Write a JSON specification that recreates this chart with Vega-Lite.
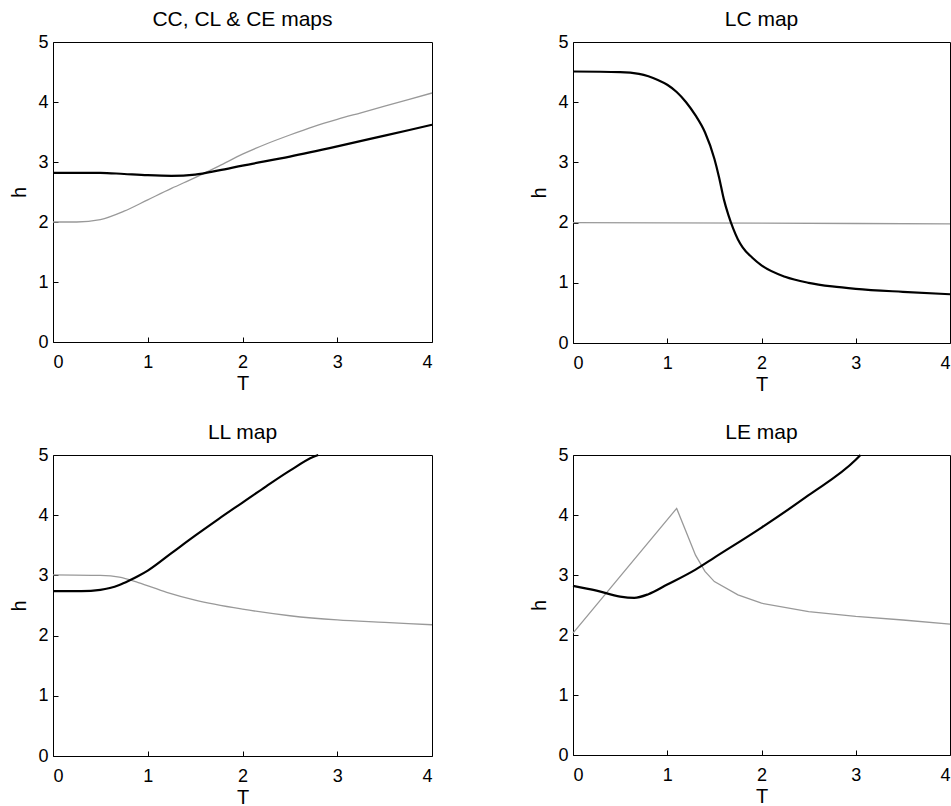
{
  "$schema": "https://vega.github.io/schema/vega-lite/v6.json",
  "padding": {"left": 9, "top": 8, "right": 0, "bottom": 0},
  "spacing": {"row": 26, "column": 92},
  "columns": 2,
  "datasets": {
    "p1": [
      {"T": 0, "h": 2.0, "s": "g"}, {"T": 0.25, "h": 2.0, "s": "g"}, {"T": 0.5, "h": 2.04, "s": "g"}, {"T": 0.75, "h": 2.18, "s": "g"}, {"T": 1.0, "h": 2.37, "s": "g"}, {"T": 1.25, "h": 2.56, "s": "g"}, {"T": 1.5, "h": 2.74, "s": "g"}, {"T": 1.75, "h": 2.93, "s": "g"}, {"T": 2.0, "h": 3.13, "s": "g"}, {"T": 2.25, "h": 3.30, "s": "g"}, {"T": 2.5, "h": 3.45, "s": "g"}, {"T": 2.75, "h": 3.59, "s": "g"}, {"T": 3.0, "h": 3.71, "s": "g"}, {"T": 3.25, "h": 3.82, "s": "g"}, {"T": 3.5, "h": 3.93, "s": "g"}, {"T": 3.75, "h": 4.04, "s": "g"}, {"T": 4.0, "h": 4.15, "s": "g"},
      {"T": 0, "h": 2.82, "s": "b"}, {"T": 0.5, "h": 2.82, "s": "b"}, {"T": 0.75, "h": 2.80, "s": "b"}, {"T": 1.0, "h": 2.78, "s": "b"}, {"T": 1.25, "h": 2.77, "s": "b"}, {"T": 1.5, "h": 2.79, "s": "b"}, {"T": 1.75, "h": 2.86, "s": "b"}, {"T": 2.0, "h": 2.94, "s": "b"}, {"T": 2.5, "h": 3.09, "s": "b"}, {"T": 3.0, "h": 3.26, "s": "b"}, {"T": 3.5, "h": 3.44, "s": "b"}, {"T": 4.0, "h": 3.62, "s": "b"}
    ],
    "p2": [
      {"T": 0, "h": 2.0, "s": "g"}, {"T": 2, "h": 1.99, "s": "g"}, {"T": 4, "h": 1.98, "s": "g"},
      {"T": 0, "h": 4.51, "s": "b"}, {"T": 0.5, "h": 4.50, "s": "b"}, {"T": 0.7, "h": 4.47, "s": "b"}, {"T": 0.8, "h": 4.43, "s": "b"}, {"T": 0.9, "h": 4.37, "s": "b"}, {"T": 1.0, "h": 4.29, "s": "b"}, {"T": 1.1, "h": 4.17, "s": "b"}, {"T": 1.2, "h": 4.0, "s": "b"}, {"T": 1.3, "h": 3.78, "s": "b"}, {"T": 1.4, "h": 3.50, "s": "b"}, {"T": 1.5, "h": 3.06, "s": "b"}, {"T": 1.55, "h": 2.75, "s": "b"}, {"T": 1.6, "h": 2.39, "s": "b"}, {"T": 1.65, "h": 2.12, "s": "b"}, {"T": 1.7, "h": 1.9, "s": "b"}, {"T": 1.75, "h": 1.72, "s": "b"}, {"T": 1.8, "h": 1.59, "s": "b"}, {"T": 1.9, "h": 1.42, "s": "b"}, {"T": 2.0, "h": 1.29, "s": "b"}, {"T": 2.25, "h": 1.10, "s": "b"}, {"T": 2.5, "h": 1.0, "s": "b"}, {"T": 2.75, "h": 0.94, "s": "b"}, {"T": 3.0, "h": 0.90, "s": "b"}, {"T": 3.5, "h": 0.85, "s": "b"}, {"T": 4.0, "h": 0.81, "s": "b"}
    ],
    "p3": [
      {"T": 0, "h": 3.01, "s": "g"}, {"T": 0.5, "h": 3.0, "s": "g"}, {"T": 0.7, "h": 2.97, "s": "g"}, {"T": 0.9, "h": 2.88, "s": "g"}, {"T": 1.2, "h": 2.72, "s": "g"}, {"T": 1.5, "h": 2.59, "s": "g"}, {"T": 2.0, "h": 2.44, "s": "g"}, {"T": 2.5, "h": 2.33, "s": "g"}, {"T": 3.0, "h": 2.26, "s": "g"}, {"T": 3.5, "h": 2.22, "s": "g"}, {"T": 4.0, "h": 2.18, "s": "g"},
      {"T": 0, "h": 2.74, "s": "b"}, {"T": 0.3, "h": 2.74, "s": "b"}, {"T": 0.5, "h": 2.76, "s": "b"}, {"T": 0.6, "h": 2.79, "s": "b"}, {"T": 0.7, "h": 2.84, "s": "b"}, {"T": 0.8, "h": 2.91, "s": "b"}, {"T": 0.9, "h": 2.99, "s": "b"}, {"T": 1.0, "h": 3.08, "s": "b"}, {"T": 1.25, "h": 3.37, "s": "b"}, {"T": 1.5, "h": 3.66, "s": "b"}, {"T": 1.75, "h": 3.94, "s": "b"}, {"T": 2.0, "h": 4.21, "s": "b"}, {"T": 2.25, "h": 4.48, "s": "b"}, {"T": 2.5, "h": 4.74, "s": "b"}, {"T": 2.75, "h": 4.97, "s": "b"}, {"T": 2.8, "h": 5.0, "s": "b"}
    ],
    "p4": [
      {"T": 0, "h": 2.03, "s": "g"}, {"T": 1.1, "h": 4.11, "s": "g"}, {"T": 1.2, "h": 3.72, "s": "g"}, {"T": 1.3, "h": 3.33, "s": "g"}, {"T": 1.4, "h": 3.06, "s": "g"}, {"T": 1.5, "h": 2.89, "s": "g"}, {"T": 1.75, "h": 2.67, "s": "g"}, {"T": 2.0, "h": 2.53, "s": "g"}, {"T": 2.5, "h": 2.39, "s": "g"}, {"T": 3.0, "h": 2.31, "s": "g"}, {"T": 3.5, "h": 2.25, "s": "g"}, {"T": 4.0, "h": 2.18, "s": "g"},
      {"T": 0, "h": 2.82, "s": "b"}, {"T": 0.25, "h": 2.74, "s": "b"}, {"T": 0.5, "h": 2.64, "s": "b"}, {"T": 0.65, "h": 2.62, "s": "b"}, {"T": 0.8, "h": 2.68, "s": "b"}, {"T": 1.0, "h": 2.84, "s": "b"}, {"T": 1.3, "h": 3.09, "s": "b"}, {"T": 1.5, "h": 3.29, "s": "b"}, {"T": 2.0, "h": 3.79, "s": "b"}, {"T": 2.5, "h": 4.33, "s": "b"}, {"T": 3.0, "h": 4.92, "s": "b"}, {"T": 3.05, "h": 5.0, "s": "b"}
    ]
  },
  "concat": [
    {
      "title": "CC, CL & CE maps",
      "width": 379, "height": 300,
      "data": {"name": "p1"},
      "encoding": {
        "x": {"field": "T", "type": "quantitative", "scale": {"domain": [0, 4]}, "axis": {"values": [0, 1, 2, 3, 4]}},
        "y": {"field": "h", "type": "quantitative", "scale": {"domain": [0, 5]}, "axis": {"values": [0, 1, 2, 3, 4, 5]}}
      },
      "layer": [
        {"transform": [{"filter": "datum.s == 'g'"}], "mark": {"type": "line", "color": "#999999", "strokeWidth": 1.3, "interpolate": "monotone"}},
        {"transform": [{"filter": "datum.s == 'b'"}], "mark": {"type": "line", "color": "#000000", "strokeWidth": 2.2, "interpolate": "monotone"}}
      ]
    },
    {
      "title": "LC map",
      "width": 377, "height": 301,
      "data": {"name": "p2"},
      "encoding": {
        "x": {"field": "T", "type": "quantitative", "scale": {"domain": [0, 4]}, "axis": {"values": [0, 1, 2, 3, 4]}},
        "y": {"field": "h", "type": "quantitative", "scale": {"domain": [0, 5]}, "axis": {"values": [0, 1, 2, 3, 4, 5]}}
      },
      "layer": [
        {"transform": [{"filter": "datum.s == 'g'"}], "mark": {"type": "line", "color": "#999999", "strokeWidth": 1.3, "interpolate": "monotone"}},
        {"transform": [{"filter": "datum.s == 'b'"}], "mark": {"type": "line", "color": "#000000", "strokeWidth": 2.2, "interpolate": "monotone"}}
      ]
    },
    {
      "title": "LL map",
      "width": 379, "height": 301,
      "data": {"name": "p3"},
      "encoding": {
        "x": {"field": "T", "type": "quantitative", "scale": {"domain": [0, 4]}, "axis": {"values": [0, 1, 2, 3, 4]}},
        "y": {"field": "h", "type": "quantitative", "scale": {"domain": [0, 5]}, "axis": {"values": [0, 1, 2, 3, 4, 5]}}
      },
      "layer": [
        {"transform": [{"filter": "datum.s == 'g'"}], "mark": {"type": "line", "color": "#999999", "strokeWidth": 1.3, "interpolate": "monotone"}},
        {"transform": [{"filter": "datum.s == 'b'"}], "mark": {"type": "line", "color": "#000000", "strokeWidth": 2.2, "interpolate": "monotone"}}
      ]
    },
    {
      "title": "LE map",
      "width": 377, "height": 300,
      "data": {"name": "p4"},
      "encoding": {
        "x": {"field": "T", "type": "quantitative", "scale": {"domain": [0, 4]}, "axis": {"values": [0, 1, 2, 3, 4]}},
        "y": {"field": "h", "type": "quantitative", "scale": {"domain": [0, 5]}, "axis": {"values": [0, 1, 2, 3, 4, 5]}}
      },
      "layer": [
        {"transform": [{"filter": "datum.s == 'g'"}], "mark": {"type": "line", "color": "#999999", "strokeWidth": 1.3, "interpolate": "linear"}},
        {"transform": [{"filter": "datum.s == 'b'"}], "mark": {"type": "line", "color": "#000000", "strokeWidth": 2.2, "interpolate": "monotone"}}
      ]
    }
  ],
  "config": {
    "font": "Liberation Sans",
    "view": {"stroke": "#000000", "strokeWidth": 1},
    "axis": {
      "grid": false, "domain": false,
      "tickColor": "#000000", "tickSize": -5,
      "labelColor": "#000000", "labelFontSize": 18,
      "titleColor": "#000000", "titleFontSize": 20, "titleFontWeight": "normal"
    },
    "axisX": {"titlePadding": 2, "labelPadding": 16},
    "axisY": {"titlePadding": 8, "labelPadding": 10},
    "title": {"fontSize": 21, "fontWeight": "normal", "color": "#000000", "offset": 3}
  }
}
